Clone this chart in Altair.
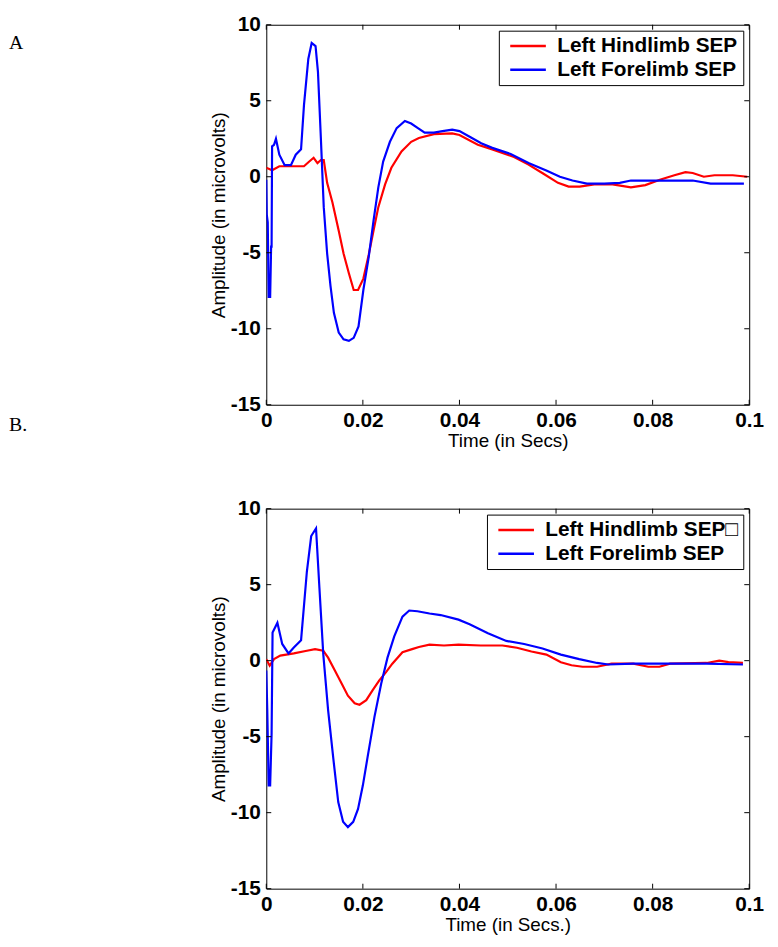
import altair as alt
import pandas as pd

# ---------------- data ----------------
HIND_A = "Left Hindlimb SEP"
FORE_A = "Left Forelimb SEP"
HIND_B = "Left Hindlimb SEP\u25a1"
FORE_B = "Left Forelimb SEP"

XTICKS = [0, 0.02, 0.04, 0.06, 0.08, 0.1]
YTICKS = [-15, -10, -5, 0, 5, 10]

PANEL_LABELS = ["A", "B."]
X_TITLES = ["Time (in Secs)", "Time (in Secs.)"]
Y_TITLE = "Amplitude (in microvolts)"

# Panel A - forelimb (blue)
a_fore_t = [0, 0.0001, 0.0003, 0.0005, 0.0008, 0.001, 0.0011, 0.0012, 0.0016, 0.002,
            0.0027, 0.0038, 0.0051, 0.0061, 0.0072, 0.0078, 0.0087, 0.0094, 0.0102, 0.0107,
            0.0113, 0.0119, 0.0126, 0.0133, 0.014, 0.015, 0.016, 0.0171, 0.0181, 0.0191,
            0.0201, 0.0212, 0.0222, 0.0232, 0.0242, 0.0256, 0.027, 0.0287, 0.03, 0.0314,
            0.0328, 0.0347, 0.0365, 0.0385, 0.04, 0.0423, 0.0445, 0.0468, 0.0506, 0.0543,
            0.0581, 0.0608, 0.0634, 0.0664, 0.07, 0.0732, 0.0755, 0.0815, 0.0883, 0.092,
            0.0989]
a_fore_v = [-0.2, -2.5, -3.0, -7.9, -7.9, -4.6, -4.6, 2.0, 2.1, 2.5,
            1.45, 0.76, 0.76, 1.45, 1.8, 4.7, 7.75, 8.8, 8.6, 6.9,
            2.55, -2.0, -5.05, -7.2, -8.95, -10.25, -10.7, -10.8, -10.6, -9.85,
            -7.45, -5.3, -2.9, -0.7, 1.0, 2.3, 3.2, 3.67, 3.5, 3.2,
            2.9, 2.9, 3.0, 3.1, 3.0, 2.6, 2.2, 1.9, 1.5, 0.9,
            0.4, 0.0, -0.25, -0.45, -0.45, -0.4, -0.25, -0.25, -0.25, -0.45,
            -0.45]

# Panel A - hindlimb (red)
a_hind_t = [0, 0.0012, 0.0027, 0.0078, 0.0089, 0.0098, 0.0106, 0.0113, 0.0119, 0.0126,
            0.0137, 0.015, 0.016, 0.0171, 0.0181, 0.019, 0.0201, 0.0212, 0.0222, 0.0232,
            0.0246, 0.0259, 0.028, 0.03, 0.0316, 0.0347, 0.0385, 0.04, 0.0438, 0.0468,
            0.0513, 0.0543, 0.0574, 0.0604, 0.0626, 0.0649, 0.0679, 0.0717, 0.0755, 0.0785,
            0.0815, 0.0845, 0.0868, 0.0883, 0.0906, 0.0928, 0.0966, 0.0996]
a_hind_v = [0.59, 0.43, 0.69, 0.69, 1.0, 1.25, 0.9, 1.1, 1.1, -0.4,
            -1.7, -3.55, -5.05, -6.35, -7.45, -7.45, -6.7, -5.15, -3.55, -2.0,
            -0.5, 0.59, 1.67, 2.3, 2.55, 2.8, 2.85, 2.75, 2.1, 1.8,
            1.3, 0.8, 0.2, -0.4, -0.65, -0.65, -0.5, -0.5, -0.7, -0.55,
            -0.2, 0.1, 0.3, 0.25, 0.0, 0.1, 0.1, 0.0]

# Panel B - forelimb (blue)
b_fore_t = [0, 0.0002, 0.0005, 0.0008, 0.0011, 0.0013, 0.0023, 0.0033, 0.0046, 0.0057,
            0.0072, 0.0084, 0.0093, 0.0103, 0.011, 0.0118, 0.0128, 0.0139, 0.0149, 0.0159,
            0.0169, 0.018, 0.019, 0.02, 0.021, 0.0224, 0.0238, 0.0251, 0.0265, 0.0282,
            0.0296, 0.0313, 0.0338, 0.0361, 0.0398, 0.0421, 0.0459, 0.0497, 0.0534, 0.0572,
            0.061, 0.0648, 0.0685, 0.0708, 0.076, 0.0836, 0.0912, 0.0987]
b_fore_v = [-0.65, -3.2, -8.2, -8.2, -4.8, 1.85, 2.5, 1.1, 0.48, 0.87,
            1.35, 5.85, 8.2, 8.7, 4.8, 0.43, -3.25, -6.5, -9.3, -10.6,
            -10.95, -10.6, -9.75, -8.2, -6.3, -3.7, -1.5, 0.2, 1.6, 2.9,
            3.3, 3.25, 3.1, 3.0, 2.7, 2.4, 1.8, 1.3, 1.1, 0.8,
            0.4, 0.1, -0.15, -0.25, -0.2, -0.2, -0.2, -0.25]

# Panel B - hindlimb (red)
b_hind_t = [0, 0.0007, 0.0016, 0.0029, 0.0057, 0.0084, 0.0101, 0.0118, 0.0128, 0.0142,
            0.0156, 0.0169, 0.0183, 0.0193, 0.0207, 0.022, 0.0234, 0.0248, 0.0261, 0.0282,
            0.0302, 0.0316, 0.0338, 0.0368, 0.0398, 0.0444, 0.0489, 0.0519, 0.0549, 0.058,
            0.061, 0.0632, 0.0655, 0.0685, 0.0715, 0.076, 0.0791, 0.0814, 0.0836, 0.0912,
            0.0938, 0.0957, 0.0987]
b_hind_v = [0.1, -0.33, 0.1, 0.33, 0.48, 0.65, 0.76, 0.65, 0.2, -0.65,
            -1.5, -2.3, -2.8, -2.9, -2.6, -1.95, -1.3, -0.75, -0.2, 0.55,
            0.76, 0.9, 1.05, 1.0, 1.05, 1.0, 1.0, 0.85, 0.6, 0.4,
            -0.1, -0.3, -0.4, -0.4, -0.2, -0.2, -0.4, -0.4, -0.2, -0.15,
            0.0, -0.1, -0.15]

COLORS = ["#ff0000", "#0000ff"]

# ---------------- layout ----------------
W, H = 488, 384
TICK = 5
FONT = "Liberation Sans"


def long_df(hind_label, hind_t, hind_v, fore_label, fore_t, fore_v):
    return pd.DataFrame({
        "t": list(hind_t) + list(fore_t),
        "v": list(hind_v) + list(fore_v),
        "series": [hind_label] * len(hind_t) + [fore_label] * len(fore_t),
    })


def panel(df, hind_label, fore_label, xtitle, texts):
    xs = alt.Scale(domain=[0, 0.1], nice=False, zero=False)
    ys = alt.Scale(domain=[-15, 10], nice=False, zero=False)
    xax = alt.Axis(values=XTICKS, labelExpr="datum.value", ticks=False, domain=False,
                   grid=False, labelPadding=5, titlePadding=1, labelFlush=False)
    yax = alt.Axis(values=YTICKS, labelExpr="datum.value", ticks=False, domain=False,
                   grid=False, labelPadding=6, titlePadding=2)

    def X(field):
        return alt.X(field, scale=xs, axis=xax, title=xtitle)

    def Y(field):
        return alt.Y(field, scale=ys, axis=yax, title=Y_TITLE)

    lines = alt.Chart(df).mark_line(strokeWidth=2.2, clip=True).encode(
        x=X("t:Q"),
        y=Y("v:Q"),
        color=alt.Color(
            "series:N",
            scale=alt.Scale(domain=[hind_label, fore_label], range=COLORS),
            sort=[hind_label, fore_label],
            title="",
            legend=alt.Legend(
                orient="top-right", offset=6, padding=5,
                strokeColor="black", fillColor="white",
                symbolType="M-2,0H2", symbolSize=324, symbolStrokeWidth=2.5,
                symbolOffset=14, labelOffset=19, rowPadding=2,
                labelFont=FONT, labelFontSize=21, labelFontWeight="bold",
                labelColor="black", labelLimit=400,
                labelExpr="datum.label + '\u2002'",
            ),
        ),
    )

    xt = pd.DataFrame({"t": XTICKS})
    yt = pd.DataFrame({"v": YTICKS})
    tb = alt.Chart(xt).mark_rule(color="black", strokeWidth=1).encode(
        x=X("t:Q"), y=alt.value(H), y2=alt.value(H - TICK))
    tt = alt.Chart(xt).mark_rule(color="black", strokeWidth=1).encode(
        x=X("t:Q"), y=alt.value(0), y2=alt.value(TICK))
    tl = alt.Chart(yt).mark_rule(color="black", strokeWidth=1).encode(
        y=Y("v:Q"), x=alt.value(0), x2=alt.value(TICK))
    tr = alt.Chart(yt).mark_rule(color="black", strokeWidth=1).encode(
        y=Y("v:Q"), x=alt.value(W), x2=alt.value(W - TICK))

    layers = [lines, tb, tt, tl, tr]
    for label, ypos in texts:
        layers.append(
            alt.Chart(pd.DataFrame({"label": [label]})).mark_text(
                align="left", baseline="alphabetic", font="Liberation Serif",
                fontSize=20, color="black"
            ).encode(text="label:N", x=alt.value(-260), y=alt.value(ypos))
        )
    return alt.layer(*layers).properties(width=W, height=H)


df_a = long_df(HIND_A, a_hind_t, a_hind_v, FORE_A, a_fore_t, a_fore_v)
df_b = long_df(HIND_B, b_hind_t, b_hind_v, FORE_B, b_fore_t, b_fore_v)

pa = panel(df_a, HIND_A, FORE_A, X_TITLES[0], [(PANEL_LABELS[0], 25), (PANEL_LABELS[1], 411)])
pb = panel(df_b, HIND_B, FORE_B, X_TITLES[1], [])

chart = alt.vconcat(pa, pb, spacing=46).resolve_scale(color="independent").properties(
    padding={"left": 0, "top": 0, "right": 5, "bottom": 5},
    background="white",
).configure_view(
    stroke="black", strokeWidth=1
).configure_axis(
    labelFont=FONT, labelFontSize=21, labelFontWeight="bold", labelColor="black",
    titleFont=FONT, titleFontSize=19, titleFontWeight="normal", titleColor="black",
)

chart.save("out.html", embed_options={"renderer": "svg", "actions": False})
